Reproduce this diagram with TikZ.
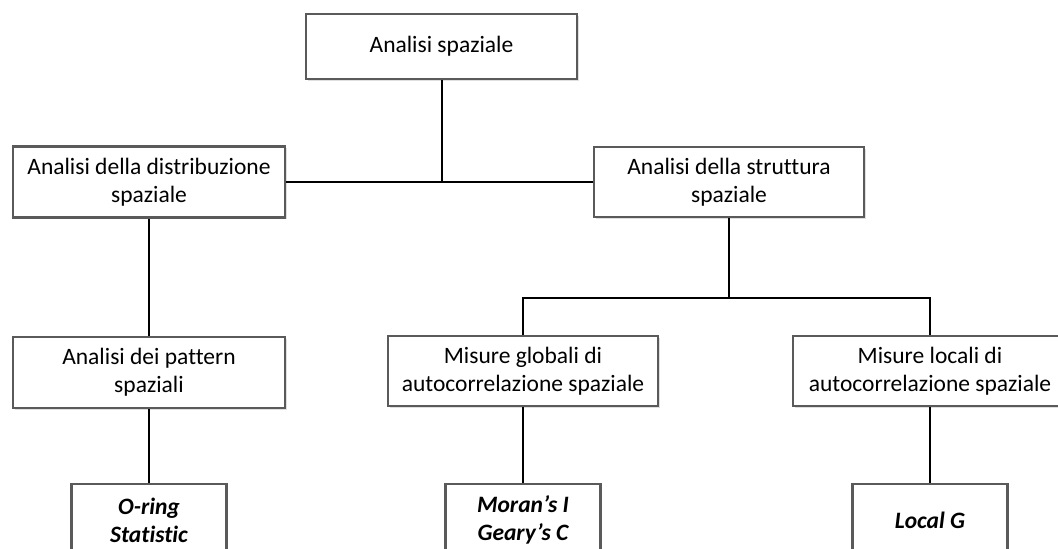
\documentclass[tikz,border=0pt]{standalone}
\usepackage{fontspec}
\setmainfont{Carlito}[Ligatures={NoCommon}]
\usetikzlibrary{shadows}
\definecolor{boxgray}{HTML}{5A5A5A}
\begin{document}
\begin{tikzpicture}[x=1pt,y=-1pt,
  box/.style={draw=boxgray, line width=2.6pt, fill=white, align=center,
    inner sep=0pt, font=\fontsize{23.5}{28}\selectfont,
    drop shadow={opacity=0.25, shadow xshift=1.5pt, shadow yshift=-1.5pt}},
  leafbox/.style={box, font=\fontsize{23.5}{28}\selectfont\bfseries\itshape},
  link/.style={draw=black, line width=2pt}]
\clip (0,0) rectangle (1058,549);
\fill[white] (0,0) rectangle (1058,549);
\node[box, minimum width=271pt, minimum height=65pt] (top) at (441.5,46.5) {Analisi spaziale};
\node[box, minimum width=272pt, minimum height=71pt] (dist) at (149,182) {Analisi della distribuzione\\spaziale};
\node[box, minimum width=270pt, minimum height=70pt] (strut) at (729,182) {Analisi della struttura\\spaziale};
\node[box, minimum width=272pt, minimum height=71pt] (pat) at (149,372.5) {Analisi dei pattern\\spaziali};
\node[box, minimum width=270pt, minimum height=70pt] (glob) at (523,371) {Misure globali di\\autocorrelazione spaziale};
\node[box, minimum width=274pt, minimum height=70pt] (loc) at (930,371) {Misure locali di\\autocorrelazione spaziale};
\node[leafbox, minimum width=155pt, minimum height=72pt] (oring) at (149,520) {O-ring\\Statistic};
\node[leafbox, minimum width=155pt, minimum height=72pt] (moran) at (523,520) {Moran’s I\\Geary’s C};
\node[leafbox, minimum width=155pt, minimum height=72pt] (localg) at (930,520) {Local G};
\coordinate (j1) at (441.5,182);
\coordinate (j2) at (729,298);
\draw[link] (dist.east) -- (strut.west);
\draw[link] (top.south) -- (j1);
\draw[link] (dist.south) -- (pat.north);
\draw[link] (strut.south) -- (j2);
\draw[link] (glob.north) |- (j2) -| (loc.north);
\draw[link] (pat.south) -- (oring.north);
\draw[link] (glob.south) -- (moran.north);
\draw[link] (loc.south) -- (localg.north);
\end{tikzpicture}
\end{document}
